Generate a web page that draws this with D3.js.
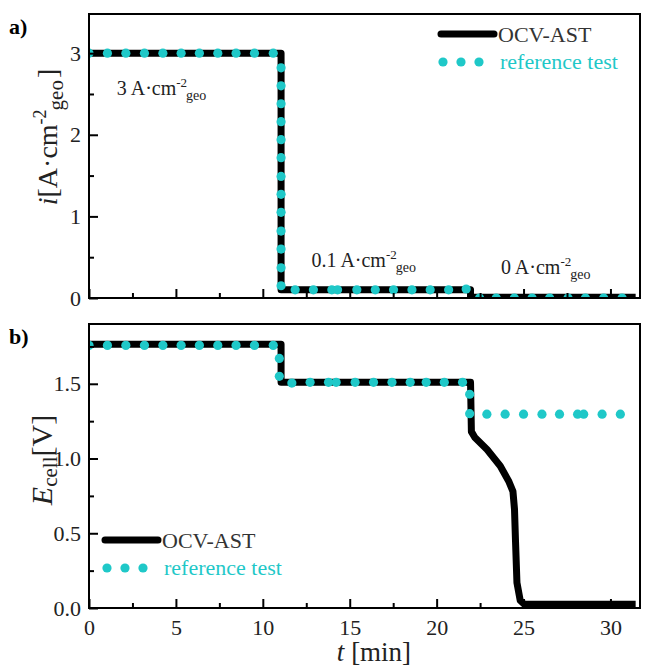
<!DOCTYPE html>
<html>
<head>
<meta charset="utf-8">
<script src="https://cdn.jsdelivr.net/npm/d3@7"></script>
<style>
  body { margin: 0; background: #fff; }
</style>
</head>
<body>
<div id="container"></div>
<script>
// time axis
const tDomain = [0, 31.7];
const xTicks = [0, 5, 10, 15, 20, 25, 30];
const xMinor = [2.5, 7.5, 12.5, 17.5, 22.5, 27.5];

// panel a) current density
const iTicks = [0, 1, 2, 3];
const iMinor = [0.5, 1.5, 2.5];
const tOcvA = [0, 11.05, 11.05, 21.95, 21.95, 31.45];
const iOcvA = [3, 3, 0.1, 0.1, 0.01, 0.01];
const tRefA = [0, 1.06, 2.12, 3.19, 4.25, 5.3, 6.35, 7.41, 8.46, 9.52, 10.6,
  11.05, 11.05, 11.05, 11.05, 11.05, 11.05, 11.05, 11.05, 11.05, 11.05, 11.05, 11.05, 11.05,
  11.86, 12.91, 13.97, 14.3, 15.41, 16.47, 17.52, 18.58, 19.63, 20.69, 21.7,
  22.47, 23.43, 24.47, 25.49, 26.5, 27.56, 28.56, 29.61, 30.67];
const iRefA = [3, 3, 3, 3, 3, 3, 3, 3, 3, 3, 3,
  2.82, 2.6, 2.38, 2.16, 1.94, 1.72, 1.49, 1.27, 1.05, 0.82, 0.6, 0.37, 0.15,
  0.1, 0.1, 0.1, 0.1, 0.1, 0.1, 0.1, 0.1, 0.1, 0.1, 0.11,
  0, 0, 0, 0, 0, 0, 0, 0, 0];
const labelsA = [
  { t: 1.6, v: 2.49, main: "3 A·cm" },
  { t: 12.8, v: 0.38, main: "0.1 A·cm" },
  { t: 23.7, v: 0.3, main: "0 A·cm" }
];

// panel b) cell voltage
const eTicks = [0, 0.5, 1.0, 1.5];
const eMinor = [0.25, 0.75, 1.25, 1.75];
const tOcvB = [0, 11.05, 11.05, 21.95, 22.0, 22.2, 22.9, 23.66, 24.14, 24.39, 24.48, 24.54, 24.62, 24.81, 25.04, 31.45];
const eOcvB = [1.765, 1.765, 1.51, 1.51, 1.18, 1.14, 1.06, 0.95, 0.85, 0.78, 0.66, 0.44, 0.17, 0.05, 0.025, 0.025];
const tRefB = [0, 1.06, 2.12, 3.19, 4.25, 5.3, 6.35, 7.41, 8.46, 9.52, 10.6,
  10.95, 10.95, 11.67, 12.72, 13.78, 14.22, 15.31, 16.37, 17.43, 18.48, 19.4, 20.44, 21.49,
  21.9, 21.9, 22.89, 23.94, 25.0, 26.06, 27.07, 28.11, 28.46, 29.52, 30.57];
const eRefB = [1.757, 1.757, 1.757, 1.757, 1.757, 1.757, 1.757, 1.757, 1.757, 1.757, 1.757,
  1.67, 1.55, 1.505, 1.51, 1.51, 1.51, 1.51, 1.51, 1.51, 1.51, 1.51, 1.51, 1.51,
  1.43, 1.30, 1.297, 1.297, 1.297, 1.297, 1.297, 1.297, 1.297, 1.297, 1.297];

const cyan = '#1fc8c8';
const serif = 'Liberation Serif';
const left = 89, right = 640;
const dotR = 4.6;

const svg = d3.select('#container')
  .append('svg')
  .attr('width', 653)
  .attr('height', 667);

const x = d3.scaleLinear().domain(tDomain).range([left, right]);

function panel(id, top, bottom, yDomain, yTicks, yMinor, fmt, tOcv, vOcv, tRef, vRef, showXLabels) {
  const y = d3.scaleLinear().domain(yDomain).range([bottom, top]);
  const g = svg.append('g').attr('id', id);

  g.append('clipPath').attr('id', 'clip-' + id)
    .append('rect')
    .attr('x', left).attr('y', top)
    .attr('width', right - left).attr('height', bottom - top);

  const plot = g.append('g').attr('clip-path', 'url(#clip-' + id + ')');

  const line = d3.line()
    .x(d => x(d[0]))
    .y(d => y(d[1]));

  plot.append('path')
    .datum(d3.zip(tOcv, vOcv))
    .attr('d', line)
    .attr('fill', 'none')
    .attr('stroke', '#000')
    .attr('stroke-width', 7)
    .attr('stroke-linejoin', 'round');

  plot.selectAll('.dot')
    .data(d3.zip(tRef, vRef))
    .enter().append('circle')
    .attr('class', 'dot')
    .attr('cx', d => x(d[0]))
    .attr('cy', d => y(d[1]))
    .attr('r', dotR)
    .attr('fill', cyan);

  // axes: ticks pointing inwards
  const yAxis = g.append('g')
    .attr('transform', `translate(${left},0)`)
    .call(d3.axisLeft(y).tickValues(yTicks).tickSize(-9).tickPadding(8).tickFormat(fmt));
  yAxis.append('g')
    .call(d3.axisLeft(y).tickValues(yMinor).tickSize(-5).tickFormat(''));

  const xAxis = g.append('g')
    .attr('transform', `translate(0,${bottom})`)
    .call(d3.axisBottom(x).tickValues(xTicks).tickSize(-9).tickPadding(11)
      .tickFormat(showXLabels ? d3.format('d') : ''));
  xAxis.append('g')
    .call(d3.axisBottom(x).tickValues(xMinor).tickSize(-5).tickFormat(''));

  g.selectAll('.domain').remove();
  g.selectAll('.tick line').attr('stroke', '#000').attr('stroke-width', 2);
  g.selectAll('.tick text').attr('fill', '#222').attr('font-size', 22);

  g.append('rect')
    .attr('x', left).attr('y', top)
    .attr('width', right - left).attr('height', bottom - top)
    .attr('fill', 'none')
    .attr('stroke', '#000')
    .attr('stroke-width', 2);

  return { g: g, y: y };
}

const pa = panel('pa', 14, 298, [0, 3.48], iTicks, iMinor, d3.format('d'),
  tOcvA, iOcvA, tRefA, iRefA, false);
const pb = panel('pb', 324, 608, [0, 1.9], eTicks, eMinor, d3.format('.1f'),
  tOcvB, eOcvB, tRefB, eRefB, true);

// level annotations in panel a
labelsA.forEach(l => {
  const t = pa.g.append('text')
    .attr('x', x(l.t))
    .attr('y', pa.y(l.v))
    .attr('font-size', 20)
    .attr('fill', '#222');
  t.append('tspan').text(l.main);
  t.append('tspan').text('-2').attr('dy', -8).attr('font-size', 13);
  t.append('tspan').text('geo').attr('dx', -1).attr('dy', 13).attr('font-size', 14);
});

// panel letters
svg.append('text').attr('x', 9).attr('y', 34).text('a)')
  .attr('font-size', 22).attr('font-weight', 'bold');
svg.append('text').attr('x', 9).attr('y', 344).text('b)')
  .attr('font-size', 22).attr('font-weight', 'bold');

// y titles
const yTitleA = svg.append('text')
  .attr('transform', 'translate(57,137) rotate(-90)')
  .attr('text-anchor', 'middle')
  .attr('font-size', 28)
  .attr('fill', '#222');
yTitleA.append('tspan').text('i').attr('font-style', 'italic');
yTitleA.append('tspan').text('[A·cm');
yTitleA.append('tspan').text('-2').attr('dy', -11).attr('font-size', 18);
yTitleA.append('tspan').text('geo').attr('dx', -1).attr('dy', 17).attr('font-size', 21);
yTitleA.append('tspan').text(']').attr('dx', 2).attr('dy', -6);

const yTitleB = svg.append('text')
  .attr('transform', 'translate(52,460) rotate(-90)')
  .attr('text-anchor', 'middle')
  .attr('font-size', 30)
  .attr('fill', '#222');
yTitleB.append('tspan').text('E').attr('font-style', 'italic');
yTitleB.append('tspan').text('cell').attr('dy', 5).attr('font-size', 21);
yTitleB.append('tspan').text('[V]').attr('dy', -5);

// x title
const xTitle = svg.append('text')
  .attr('x', 374).attr('y', 661)
  .attr('text-anchor', 'middle')
  .attr('font-size', 27)
  .attr('fill', '#222');
xTitle.append('tspan').text('t').attr('font-style', 'italic');
xTitle.append('tspan').text(' [min]');

// legends
function legend(x0, y0) {
  const lg = svg.append('g').attr('transform', `translate(${x0},${y0})`);
  lg.append('line')
    .attr('x1', 0).attr('x2', 53).attr('y1', 0).attr('y2', 0)
    .attr('stroke', '#000').attr('stroke-width', 7).attr('stroke-linecap', 'round');
  lg.append('text').attr('x', 57).attr('y', 8).text('OCV-AST')
    .attr('font-size', 22).attr('fill', '#333');
  lg.selectAll('.ldot').data([0, 1, 2]).enter().append('circle')
    .attr('cx', d => 2 + d * 18).attr('cy', 28).attr('r', dotR)
    .attr('fill', cyan);
  lg.append('text').attr('x', 59).attr('y', 35).text('reference test')
    .attr('font-size', 22).attr('fill', cyan);
}
legend(441, 34);
legend(105, 540);

// serif everywhere, set on each text element
svg.selectAll('text').attr('font-family', serif);
svg.selectAll('g').attr('font-family', null);
</script>
</body>
</html>
